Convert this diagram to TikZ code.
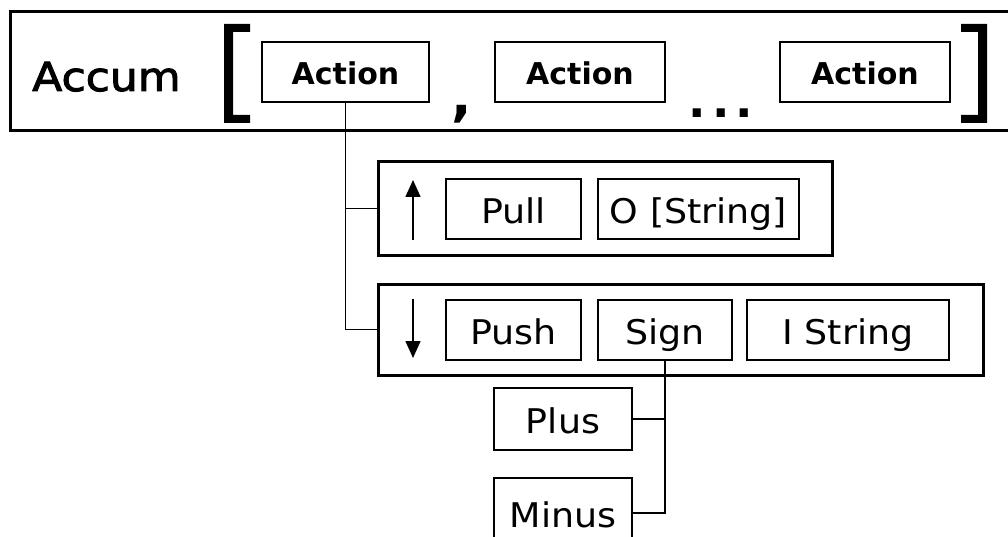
\documentclass[tikz,border=0pt]{standalone}
\usepackage{fontspec}
\setmainfont{DejaVu Sans}
\newfontfamily\labelface[FakeStretch=1.07]{DejaVu Sans}
\newfontfamily\titleface[FakeStretch=1.1,FakeBold=2.5]{DejaVu Sans}
\newfontfamily\boldface{DejaVu Sans Bold}
\usetikzlibrary{arrows.meta}
\tikzset{
  frame/.style={line width=3pt},
  rowbox/.style={draw, line width=3pt, rectangle, inner sep=0pt},
  itembox/.style={draw, line width=1.4pt, rectangle, inner sep=0pt,
    minimum height=60pt, text height=34pt, text depth=6pt,
    font=\labelface\fontsize{34}{40}\selectfont},
  actbox/.style={itembox, text height=30pt, text depth=4pt,
    font=\boldface\fontsize{30}{36}\selectfont},
  altbox/.style={itembox, line width=2.8pt, minimum width=138pt},
  wire/.style={line width=1.5pt},
  dirarrow/.style={line width=1.6pt, -{Triangle[width=15pt,length=17pt]}},
  bracket/.style={fill=black, draw=none}
}
\begin{document}
\begin{tikzpicture}[x=1pt,y=-1pt]
\useasboundingbox (0,0) rectangle (1008,537);
\clip (0,0) rectangle (1008,537);
\fill[white] (0,0) rectangle (1008,537);

% header frame, open on the right
\draw[frame] (1012,12) -- (10,12) -- (10,131) -- (1012,131);
\node[anchor=base west, inner sep=0pt, font=\titleface\fontsize{40}{48}\selectfont] (accum) at (32,91) {Accum};

% brackets
\fill[bracket] (224,24) -- (250,24) -- (250,32) -- (233,32) -- (233,115)
  -- (250,115) -- (250,123) -- (224,123) -- cycle;
\fill[bracket] (987,24) -- (961,24) -- (961,32) -- (978,32) -- (978,115)
  -- (961,115) -- (961,123) -- (987,123) -- cycle;

% list of actions
\node[actbox, minimum width=167pt] (act1) at (345.5,72) {Action};
\node[actbox, minimum width=170pt] (act2) at (580,72) {Action};
\node[actbox, minimum width=170pt] (act3) at (865,72) {Action};
\node[anchor=base, inner sep=0pt, font=\boldface\fontsize{54}{60}\selectfont] (comma) at (462,116) {,};
\node[anchor=base, inner sep=0pt, font=\boldface\fontsize{46}{52}\selectfont] (dots) at (721,118) {.\hspace{6pt}.\hspace{6pt}.};

% pull row
\node[rowbox, minimum width=454pt, minimum height=93pt] (pullrow) at (605,208.5) {};
\draw[dirarrow] (413,240) -- (413,180);
\node[itembox, minimum width=135pt] (pull) at (513.5,209) {Pull};
\node[itembox, minimum width=201pt] (ostring) at (698.5,209) {O [String]};

% push row
\node[rowbox, minimum width=605pt, minimum height=91pt] (pushrow) at (680.5,329.5) {};
\draw[dirarrow] (413,299) -- (413,358);
\node[itembox, minimum width=135pt] (push) at (513.5,330) {Push};
\node[itembox, minimum width=134pt] (sign) at (665,330) {Sign};
\node[itembox, minimum width=202pt] (istring) at (848,330) {I String};

% sign alternatives
\node[altbox, minimum height=62pt] (plus) at (563,419) {Plus};
\node[altbox, minimum height=70pt] (minus) at (563,513) {Minus};

% connectors
\draw[wire] (act1.south) |- (pushrow.west);
\draw[wire] (act1.south |- pullrow.west) -- (pullrow.west);
\draw[wire] (sign.south) |- (minus.east);
\draw[wire] (sign.south |- plus.east) -- (plus.east);
\end{tikzpicture}
\end{document}
